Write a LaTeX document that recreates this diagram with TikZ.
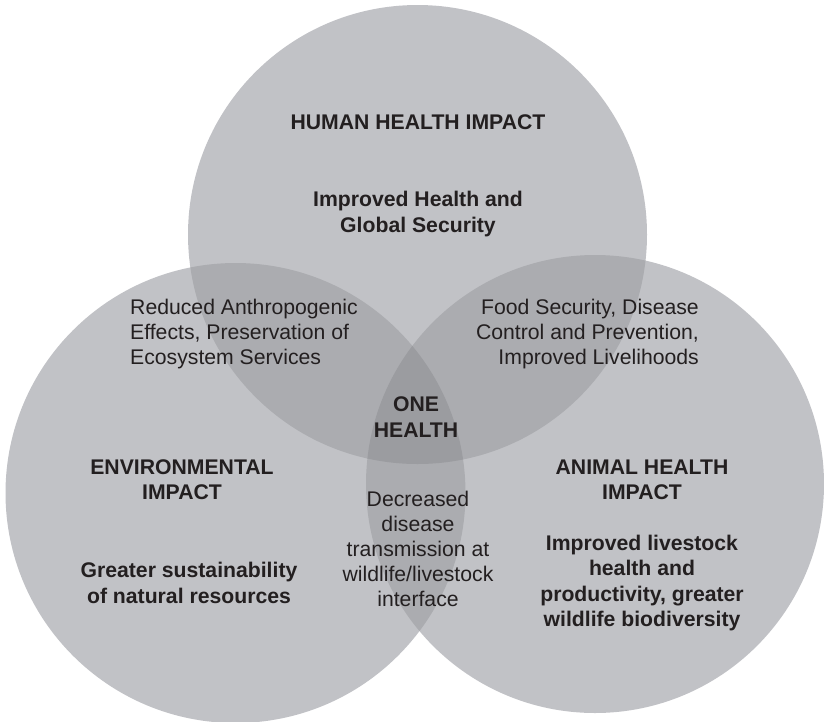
\documentclass[tikz,border=0pt]{standalone}
\usepackage{fontspec}
\setmainfont{Liberation Sans}
\usetikzlibrary{positioning}
\definecolor{onegray}{HTML}{C1C2C6}
\definecolor{twogray}{HTML}{ABACB0}
\definecolor{threegray}{HTML}{9B9CA0}
\definecolor{inkdark}{HTML}{231F20}

\begin{document}
\begin{tikzpicture}[x=1pt,y=-1pt,
  txt/.style={text=inkdark, inner sep=0pt, align=center, font=\fontsize{21.2}{25.2}\selectfont},
  head/.style={txt, font=\fontsize{21.2}{25.2}\selectfont\bfseries}]
  \useasboundingbox (0,0) rectangle (824,721);
  \def\human{(417.5,234.5) circle[radius=229.5pt]}
  \def\env{(235.5,493) circle[radius=230pt]}
  \def\animal{(595,484) circle[radius=229pt]}
  % single circles
  \foreach \c in {\human,\env,\animal}{
    \fill[onegray] \c;
  }
  % pairwise overlaps
  \begin{scope}\clip \human; \fill[twogray] \env; \fill[twogray] \animal; \end{scope}
  \begin{scope}\clip \env; \fill[twogray] \animal; \end{scope}
  % centre
  \begin{scope}\clip \human; \clip \env; \fill[threegray] \animal; \end{scope}

  \node[head] (hh) at (418,122) {HUMAN HEALTH IMPACT};
  \node[head] (hhres) at (418,214) {Improved Health and\\Global Security};
  \node[txt, align=left, anchor=west] (he) at (130,334) {Reduced Anthropogenic\\Effects, Preservation of\\Ecosystem Services};
  \node[txt, align=right, anchor=east] (ha) at (699,334) {Food Security, Disease\\Control and Prevention,\\Improved Livelihoods};
  \node[head] (one) at (416,417) {ONE\\HEALTH};
  \node[head] (eh) at (182,480) {ENVIRONMENTAL\\IMPACT};
  \node[head] (ehres) at (189,583) {Greater sustainability\\of natural resources};
  \node[txt] (ea) at (418,549) {Decreased\\disease\\transmission at\\wildlife/livestock\\interface};
  \node[head] (ah) at (642,480) {ANIMAL HEALTH\\IMPACT};
  \node[head] (ahres) at (642,583) {Improved livestock\\health and\\productivity, greater\\wildlife biodiversity};
\end{tikzpicture}
\end{document}
